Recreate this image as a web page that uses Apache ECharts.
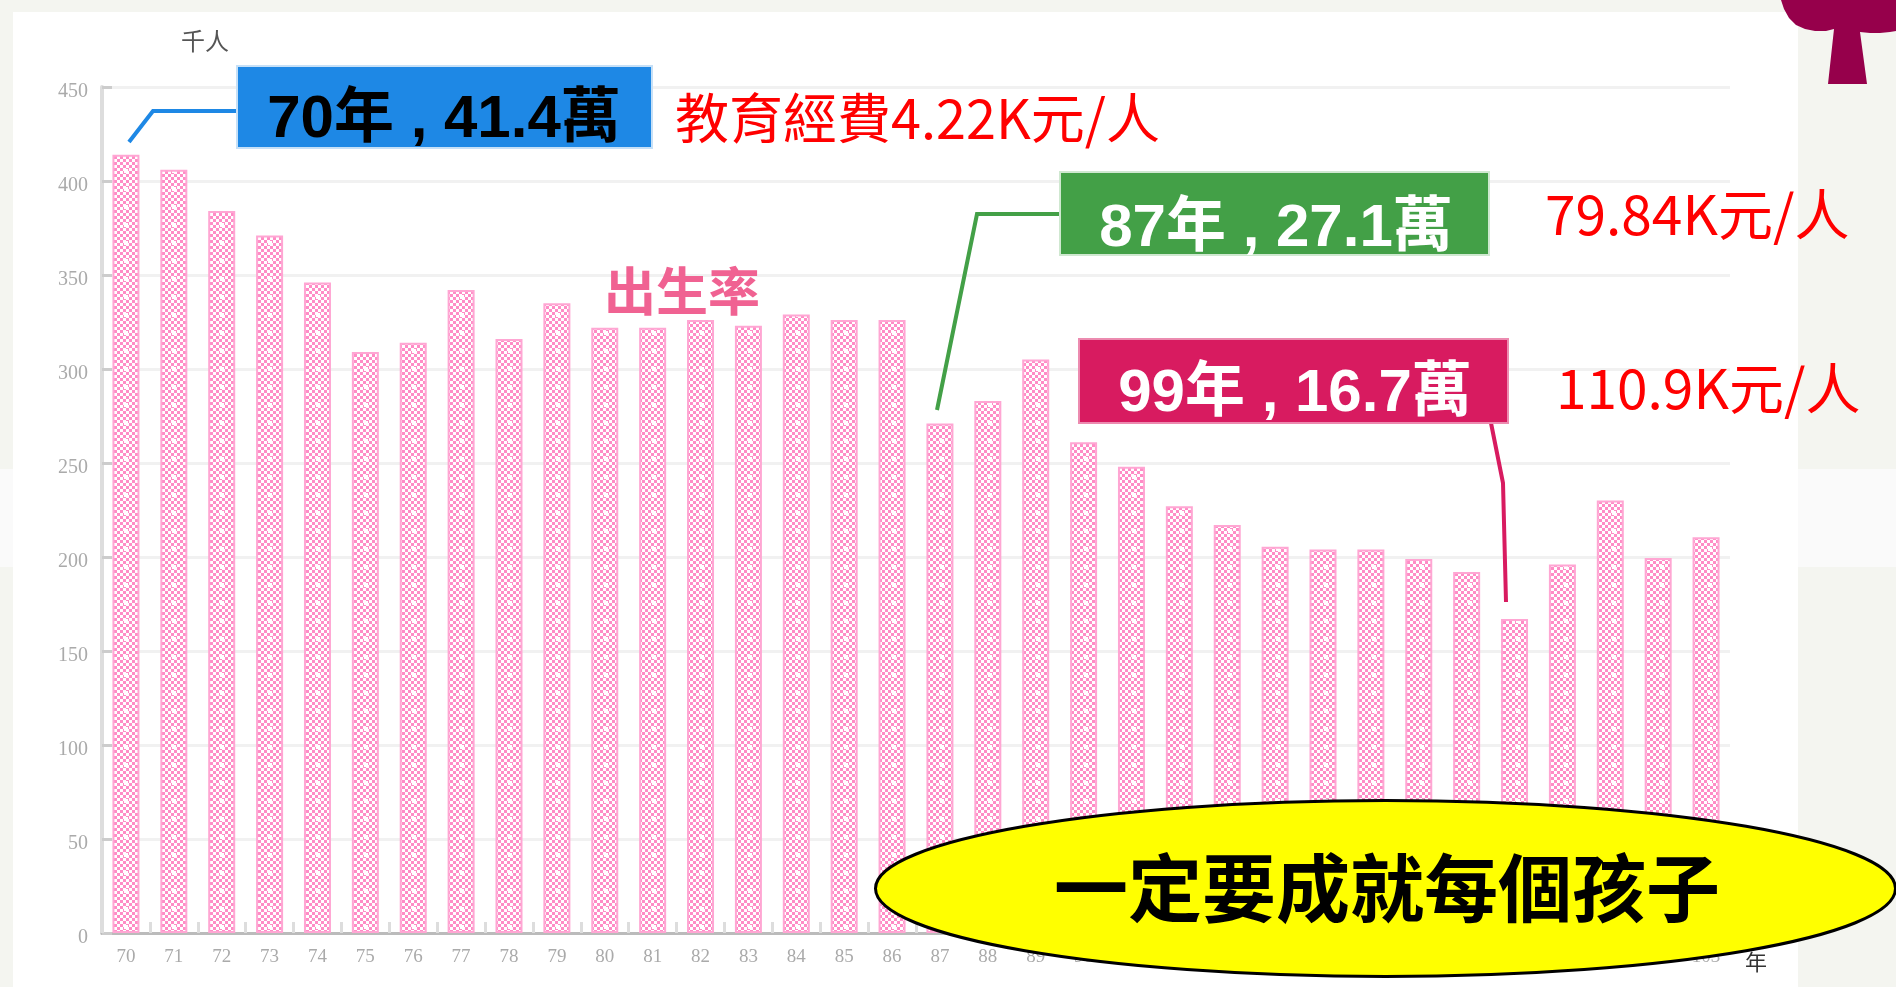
<!DOCTYPE html>
<html>
<head>
<meta charset="utf-8">
<title>出生率</title>
<script src="https://cdn.jsdelivr.net/npm/echarts@6/dist/echarts.min.js"></script>
<style>
  html, body { margin: 0; padding: 0; background: #f4f5f0; }
  #mapbox { width: 1896px; height: 987px; }
</style>
</head>
<body>
<div id="mapbox"></div>
<script>
  // 民國年 / 出生人數(千人)
  var years = ['70','71','72','73','74','75','76','77','78','79','80','81','82','83','84','85','86',
    '87','88','89','90','91','92','93','94','95','96','97','98','99','100','101','102','103'];
  var births = [414,406,384,371,346,309,314,342,316,335,322,322,326,323,329,326,326,
    271,283,305,261,248,227,217,205.5,204,204,199,192,167,196,230,199.5,210.5];
  var unitY = '千人';
  var unitX = '年';
  var seriesName = '出生率';
  var boxTexts = ['70年 , 41.4萬', '87年 , 27.1萬', '99年 , 16.7萬'];
  var costTexts = ['教育經費4.22K元/人', '79.84K元/人', '110.9K元/人'];
  var slogan = '一定要成就每個孩子';

  var latin = "'Liberation Sans','Noto Sans CJK TC',sans-serif";
  var cjk = "'Noto Sans CJK TC',sans-serif";

  // 柱子的網點花紋
  function makePattern() {
    var c = document.createElement('canvas');
    c.width = 48;
    c.height = 18;
    var ctx = c.getContext('2d');
    ctx.fillStyle = '#fff';
    ctx.fillRect(0, 0, 48, 18);
    ctx.fillStyle = '#ff8cc6';
    for (var x = 0; x < 48; x += 3) {
      for (var y = 0; y < 18; y += 3) {
        if ((x + y) % 6 === 0) ctx.fillRect(x, y, 3, 3);
      }
    }
    // 中間較大的白點
    ctx.fillStyle = '#fff';
    ctx.fillRect(28, 7, 4, 4);
    return c;
  }

  function boxText(text, x, y, color) {
    return {
      type: 'text', z: 21, x: x, y: y,
      style: { text: text, fill: color, font: 'bold 60px ' + latin, textAlign: 'center', textVerticalAlign: 'middle' }
    };
  }
  function costText(text, x, y, size) {
    return {
      type: 'text', z: 21, x: x, y: y,
      style: { text: text, fill: '#ff0000', font: size + 'px ' + cjk, textVerticalAlign: 'middle' }
    };
  }
  function box(x, y, w, h, color, edge) {
    return {
      type: 'rect', z: 20, shape: { x: x, y: y, width: w, height: h },
      style: { fill: color, stroke: edge, lineWidth: 2 }
    };
  }
  function leader(points, color) {
    return {
      type: 'polyline', z: 19, shape: { points: points },
      style: { fill: null, stroke: color, lineWidth: 4 }
    };
  }

  var graphics = [
    // 背景
    { type: 'rect', z: -5, shape: { x: 0, y: 469, width: 1896, height: 98 }, style: { fill: '#fafafa' } },
    { type: 'rect', z: -4, shape: { x: 13, y: 12, width: 1785, height: 975 }, style: { fill: '#fff' } },
    {
      type: 'polygon', z: 5,
      shape: { points: [[1781,0],[1784,9],[1789,18],[1796,25],[1805,29],[1815,31],[1826,31],[1834,29],[1828,84],[1867,84],[1860,32],[1870,33],[1880,33],[1890,32],[1896,31],[1896,0]] },
      style: { fill: '#96004b' }
    },
    // 單位
    { type: 'text', z: 6, x: 205, y: 41, style: { text: unitY, fill: '#555', font: '24px ' + cjk, textAlign: 'center', textVerticalAlign: 'middle' } },
    { type: 'text', z: 6, x: 1756, y: 962, style: { text: unitX, fill: '#333', font: '22px ' + cjk, textAlign: 'center', textVerticalAlign: 'middle' } },
    { type: 'text', z: 6, x: 682, y: 291, style: { text: seriesName, fill: '#f06292', font: 'bold 52px ' + cjk, textAlign: 'center', textVerticalAlign: 'middle' } },
    // 標註
    leader([[129, 142], [153, 111], [238, 111]], '#1e88e5'),
    box(237, 66, 415, 82, '#1e88e5', '#c6e0f7'),
    boxText(boxTexts[0], 444, 120, '#000'),
    leader([[937, 410], [977, 214], [1062, 214]], '#43a047'),
    box(1060, 172, 429, 83, '#43a047', '#cfe8d0'),
    boxText(boxTexts[1], 1276, 229, '#fff'),
    leader([[1491, 423], [1503, 483], [1506, 602]], '#d81b60'),
    box(1079, 339, 429, 84, '#d81b60', '#ec8bb0'),
    boxText(boxTexts[2], 1295, 394, '#fff'),
    costText(costTexts[0], 675, 118, 54),
    costText(costTexts[1], 1545, 214, 55),
    costText(costTexts[2], 1556, 388, 55),
    // 橢圓
    {
      type: 'ellipse', z: 30, shape: { cx: 1385.5, cy: 888.5, rx: 510, ry: 88 },
      style: { fill: '#ffff00', stroke: '#000', lineWidth: 3 }
    },
    { type: 'text', z: 31, x: 1387, y: 888, style: { text: slogan, fill: '#000', font: 'bold 74px ' + cjk, textAlign: 'center', textVerticalAlign: 'middle' } }
  ];

  var myChart = echarts.init(document.getElementById('mapbox'));
  var option = {
    animation: false,
    backgroundColor: 'transparent',
    grid: { left: 102, right: 166, top: 87, bottom: 54 },
    xAxis: {
      type: 'category',
      data: years,
      axisLine: { lineStyle: { color: '#bbb', width: 3 } },
      axisTick: { show: true, inside: true, length: 11, lineStyle: { color: '#ddd', width: 3 } },
      axisLabel: {
        interval: 0,
        margin: 15,
        color: '#aaa',
        fontFamily: "'Liberation Serif',serif",
        fontSize: 19
      },
      splitLine: { show: false }
    },
    yAxis: {
      type: 'value',
      min: 0,
      max: 450,
      interval: 50,
      axisLine: { show: true, lineStyle: { color: '#ddd', width: 4 } },
      axisTick: { show: true, inside: true, length: 10, lineStyle: { color: '#ccc', width: 3 } },
      axisLabel: {
        margin: 14,
        verticalAlign: 'top',
        lineHeight: 10,
        color: '#aaa',
        fontFamily: "'Liberation Serif',serif",
        fontSize: 20
      },
      splitLine: { show: true, lineStyle: { color: '#f1f1f1', width: 3 } }
    },
    series: [{
      name: seriesName,
      type: 'bar',
      data: births,
      barWidth: 27,
      itemStyle: {
        color: { image: makePattern(), repeat: 'repeat' },
        borderColor: '#ffa6d3',
        borderWidth: 2
      }
    }],
    graphic: { elements: graphics }
  };
  myChart.setOption(option);
</script>
</body>
</html>
